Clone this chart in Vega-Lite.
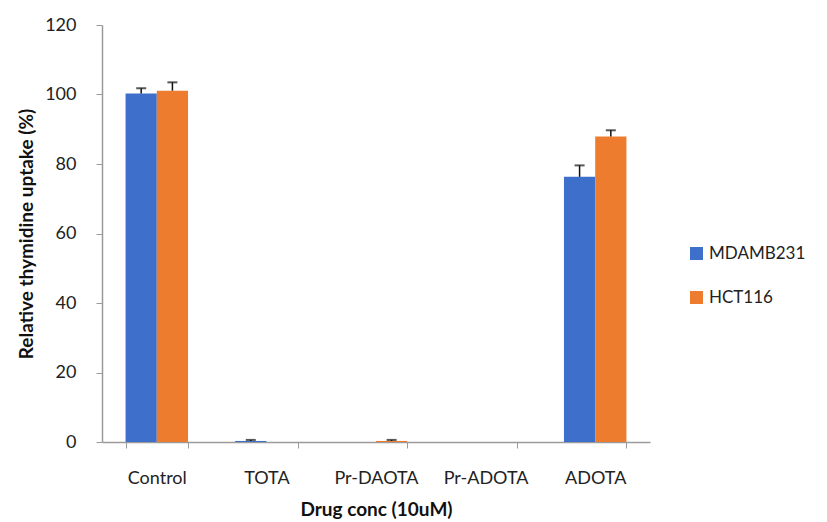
{
  "$schema": "https://vega.github.io/schema/vega-lite/v6.json",
  "width": 548,
  "height": 417,
  "autosize": "none",
  "padding": {"left": 102, "top": 25, "right": 177, "bottom": 80},
  "background": "white",
  "config": {
    "view": {"stroke": null},
    "font": "Lato",
    "axis": {"labelFont": "Lato", "titleFont": "Lato", "labelColor": "#222", "titleColor": "#111", "domainColor": "#9a9a9a", "tickColor": "#9a9a9a", "grid": false}
  },
  "data": {
    "values": [
      {"drug": "Control", "line": "MDAMB231", "value": 100.3, "err": 1.5},
      {"drug": "Control", "line": "HCT116", "value": 101.1, "err": 2.4},
      {"drug": "TOTA", "line": "MDAMB231", "value": 0.3, "err": 0.3},
      {"drug": "TOTA", "line": "HCT116", "value": 0, "err": 0},
      {"drug": "Pr-DAOTA", "line": "MDAMB231", "value": 0, "err": 0},
      {"drug": "Pr-DAOTA", "line": "HCT116", "value": 0.3, "err": 0.3},
      {"drug": "Pr-ADOTA", "line": "MDAMB231", "value": 0, "err": 0},
      {"drug": "Pr-ADOTA", "line": "HCT116", "value": 0, "err": 0},
      {"drug": "ADOTA", "line": "MDAMB231", "value": 76.3, "err": 3.3},
      {"drug": "ADOTA", "line": "HCT116", "value": 87.9, "err": 1.8}
    ]
  },
  "transform": [{"calculate": "datum.value + datum.err", "as": "hi"}],
  "encoding": {
    "x": {
      "field": "drug", "type": "nominal",
      "sort": ["Control", "TOTA", "Pr-DAOTA", "Pr-ADOTA", "ADOTA"],
      "scale": {"paddingInner": 0.43, "paddingOuter": 0.215},
      "axis": {"title": "Drug conc (10uM)", "labelAngle": 0, "tickBand": "extent", "tickSize": 6, "labelPadding": 21, "labelFontSize": 18, "titleFontSize": 19, "titleFontWeight": "bold", "titlePadding": 13, "domainWidth": 1.5}
    },
    "xOffset": {"field": "line", "type": "nominal", "sort": ["MDAMB231", "HCT116"], "scale": {"paddingInner": 0}}
  },
  "layer": [
    {
      "mark": {"type": "bar"},
      "encoding": {
        "y": {
          "field": "value", "type": "quantitative",
          "scale": {"domain": [0, 120]},
          "axis": {"title": "Relative thymidine uptake (%)", "values": [0, 20, 40, 60, 80, 100, 120], "tickSize": 6, "labelPadding": 20, "labelFontSize": 18, "titleFontSize": 19, "titleFontWeight": "bold", "titlePadding": 8, "domainWidth": 1.5}
        },
        "color": {
          "field": "line", "type": "nominal",
          "sort": ["MDAMB231", "HCT116"],
          "scale": {"domain": ["MDAMB231", "HCT116"], "range": ["#3E6FCA", "#EE7C2F"]},
          "legend": {"title": null, "orient": "none", "legendX": 586, "legendY": 220, "symbolType": "square", "symbolSize": 170, "labelFontSize": 17, "labelFont": "Lato", "labelColor": "#222", "rowPadding": 26, "labelOffset": 4, "symbolStrokeWidth": 0}
        }
      }
    },
    {
      "mark": {"type": "rule", "color": "#111", "strokeWidth": 1.5},
      "transform": [{"filter": "datum.err > 0"}],
      "encoding": {
        "y": {"field": "value", "type": "quantitative"},
        "y2": {"field": "hi"}
      }
    },
    {
      "mark": {"type": "tick", "color": "#111", "thickness": 2, "size": 10},
      "transform": [{"filter": "datum.err > 0"}],
      "encoding": {
        "y": {"field": "hi", "type": "quantitative"}
      }
    }
  ]
}
